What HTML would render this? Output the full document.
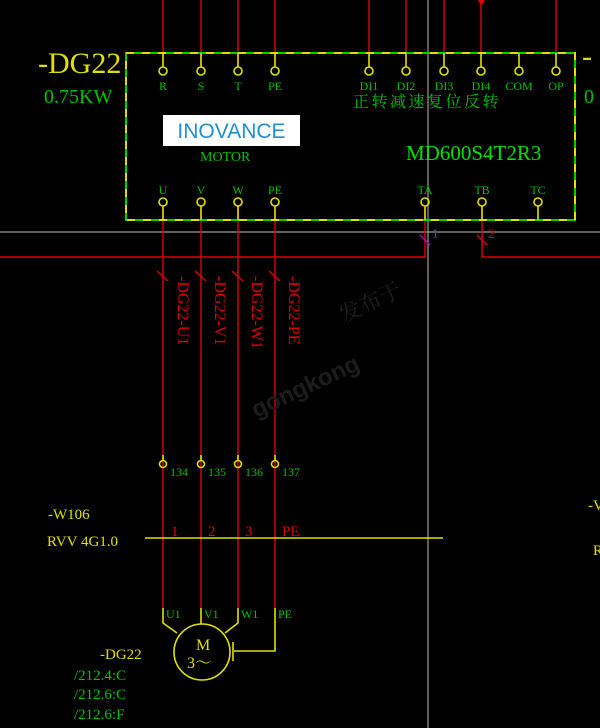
<!DOCTYPE html>
<html><head><meta charset="utf-8"><style>
html,body{margin:0;padding:0;background:#000;width:600px;height:728px;overflow:hidden}
svg{display:block}
text{font-family:"Liberation Serif","Noto Serif CJK SC",serif}
</style></head><body>
<svg width="600" height="728" viewBox="0 0 600 728" xmlns="http://www.w3.org/2000/svg">
<rect width="600" height="728" fill="#000"/>
<line x1="428" y1="0" x2="428" y2="728" stroke="#9a9a9a" stroke-width="1.2"/>
<line x1="0" y1="232" x2="600" y2="232" stroke="#9a9a9a" stroke-width="1.2"/>
<g stroke="#e00000" stroke-width="1.4">
<line x1="163" y1="0" x2="163" y2="66"/>
<line x1="201" y1="0" x2="201" y2="66"/>
<line x1="238" y1="0" x2="238" y2="66"/>
<line x1="275" y1="0" x2="275" y2="66"/>
<line x1="369" y1="0" x2="369" y2="53"/>
<line x1="406" y1="0" x2="406" y2="53"/>
<line x1="444" y1="0" x2="444" y2="53"/>
<line x1="481" y1="0" x2="481" y2="53"/>
<line x1="556" y1="0" x2="556" y2="53"/>
<line x1="163" y1="207" x2="163" y2="608"/>
<line x1="201" y1="207" x2="201" y2="608"/>
<line x1="238" y1="207" x2="238" y2="608"/>
<line x1="275" y1="207" x2="275" y2="608"/>
<polyline points="425,207 425,257 0,257" fill="none"/>
<polyline points="482,207 482,257 600,257" fill="none"/>
<line x1="157" y1="271" x2="168" y2="281"/>
<line x1="195" y1="271" x2="206" y2="281"/>
<line x1="232" y1="271" x2="243" y2="281"/>
<line x1="269" y1="271" x2="280" y2="281"/>
<line x1="477" y1="235" x2="487" y2="245"/>
</g>
<polygon points="478,0 485,0 481,6" fill="#e00000"/>
<line x1="420" y1="235" x2="430" y2="245" stroke="#c000c0" stroke-width="1.4"/>
<text x="432" y="238" font-size="13" fill="#c000c0">1</text>
<text x="488" y="238" font-size="13" fill="#e00000">2</text>
<rect x="126" y="53" width="449" height="167" fill="none" stroke="#00d000" stroke-width="2"/>
<rect x="126" y="53" width="449" height="167" fill="none" stroke="#e0e000" stroke-width="2" stroke-dasharray="8 8"/>
<g stroke="#e0e000" stroke-width="1.6" fill="none">
<line x1="163" y1="53" x2="163" y2="67"/><circle cx="163" cy="71" r="4"/>
<line x1="201" y1="53" x2="201" y2="67"/><circle cx="201" cy="71" r="4"/>
<line x1="238" y1="53" x2="238" y2="67"/><circle cx="238" cy="71" r="4"/>
<line x1="275" y1="53" x2="275" y2="67"/><circle cx="275" cy="71" r="4"/>
<line x1="369" y1="53" x2="369" y2="67"/><circle cx="369" cy="71" r="4"/>
<line x1="406" y1="53" x2="406" y2="67"/><circle cx="406" cy="71" r="4"/>
<line x1="444" y1="53" x2="444" y2="67"/><circle cx="444" cy="71" r="4"/>
<line x1="481" y1="53" x2="481" y2="67"/><circle cx="481" cy="71" r="4"/>
<line x1="519" y1="53" x2="519" y2="67"/><circle cx="519" cy="71" r="4"/>
<line x1="556" y1="53" x2="556" y2="67"/><circle cx="556" cy="71" r="4"/>
<circle cx="163" cy="202" r="4"/><line x1="163" y1="206" x2="163" y2="220"/>
<circle cx="201" cy="202" r="4"/><line x1="201" y1="206" x2="201" y2="220"/>
<circle cx="238" cy="202" r="4"/><line x1="238" y1="206" x2="238" y2="220"/>
<circle cx="275" cy="202" r="4"/><line x1="275" y1="206" x2="275" y2="220"/>
<circle cx="425" cy="202" r="4"/><line x1="425" y1="206" x2="425" y2="220"/>
<circle cx="482" cy="202" r="4"/><line x1="482" y1="206" x2="482" y2="220"/>
<circle cx="538" cy="202" r="4"/><line x1="538" y1="206" x2="538" y2="220"/>
<circle cx="163" cy="464" r="3.5"/><circle cx="201" cy="464" r="3.5"/><circle cx="238" cy="464" r="3.5"/><circle cx="275" cy="464" r="3.5"/>
<line x1="163" y1="455" x2="163" y2="460"/><line x1="201" y1="455" x2="201" y2="460"/><line x1="238" y1="455" x2="238" y2="460"/><line x1="275" y1="455" x2="275" y2="460"/>
<line x1="145" y1="538" x2="443" y2="538"/>
<polyline points="163,608 163,623 177,633"/>
<polyline points="201,608 201,624"/>
<polyline points="238,608 238,623 225,633"/>
<polyline points="275,608 275,651 234,651"/>
<line x1="233" y1="642" x2="233" y2="661"/>
<circle cx="202" cy="652" r="28"/>
</g>
<g fill="#00c000" font-size="12" text-anchor="middle">
<text x="163" y="90">R</text><text x="201" y="90">S</text><text x="238" y="90">T</text><text x="275" y="90">PE</text>
<text x="369" y="90">DI1</text><text x="406" y="90">DI2</text><text x="444" y="90">DI3</text><text x="481" y="90">DI4</text><text x="519" y="90">COM</text><text x="556" y="90">OP</text>
<text x="163" y="194">U</text><text x="201" y="194">V</text><text x="238" y="194">W</text><text x="275" y="194">PE</text>
<text x="425" y="194">TA</text><text x="482" y="194">TB</text><text x="538" y="194">TC</text>
</g>
<text x="353" y="107" font-size="16" fill="#00c000" letter-spacing="2.5">正转减速复位反转</text>
<rect x="163" y="115" width="137" height="31" fill="#fff"/>
<text x="231.5" y="138" font-size="21" fill="#1e8fd0" text-anchor="middle" style="font-family:'Liberation Sans',sans-serif">INOVANCE</text>
<text x="200" y="161" font-size="14" fill="#00c000">MOTOR</text>
<text x="406" y="160" font-size="21" fill="#00e000">MD600S4T2R3</text>
<text x="38" y="73" font-size="30" fill="#e0e000">-DG22</text>
<text x="44" y="103" font-size="20" fill="#00c000">0.75KW</text>
<text x="582" y="66" font-size="30" fill="#e0e000">-</text>
<text x="584" y="103" font-size="20" fill="#00c000">0</text>
<g fill="#e00000" font-size="16">
<text transform="translate(178,276) rotate(90)">-DG22-U1</text>
<text transform="translate(215,276) rotate(90)">-DG22-V1</text>
<text transform="translate(252,276) rotate(90)">-DG22-W1</text>
<text transform="translate(289,276) rotate(90)">-DG22-PE</text>
</g>
<text x="355" y="345" font-size="22" fill="#1e1e1e" transform="rotate(-25 300 360)">发布于</text>
<text x="240" y="395" font-size="24" fill="#1c1c1c" font-weight="bold" transform="rotate(-25 300 370)" style="font-family:'Liberation Sans',sans-serif">gongkong</text>
<g fill="#00c000" font-size="12">
<text x="170" y="476">134</text><text x="208" y="476">135</text><text x="245" y="476">136</text><text x="282" y="476">137</text>
<text x="166" y="618">U1</text><text x="204" y="618">V1</text><text x="241" y="618">W1</text><text x="278" y="618">PE</text>
</g>
<g fill="#e00000" font-size="15">
<text x="171" y="536">1</text><text x="208" y="536">2</text><text x="245" y="536">3</text><text x="282" y="536">PE</text>
</g>
<g fill="#e0e000" font-size="15">
<text x="48" y="519">-W106</text>
<text x="47" y="546">RVV 4G1.0</text>
<text x="588" y="510">-V</text>
<text x="593" y="555">R</text>
<text x="100" y="659">-DG22</text>
<text x="196" y="650" font-size="16">M</text>
<text x="187" y="668" font-size="16">3～</text>
</g>
<g fill="#00c000" font-size="15">
<text x="74" y="680">/212.4:C</text>
<text x="74" y="699">/212.6:C</text>
<text x="74" y="719">/212.6:F</text>
</g>
</svg>
</body></html>
